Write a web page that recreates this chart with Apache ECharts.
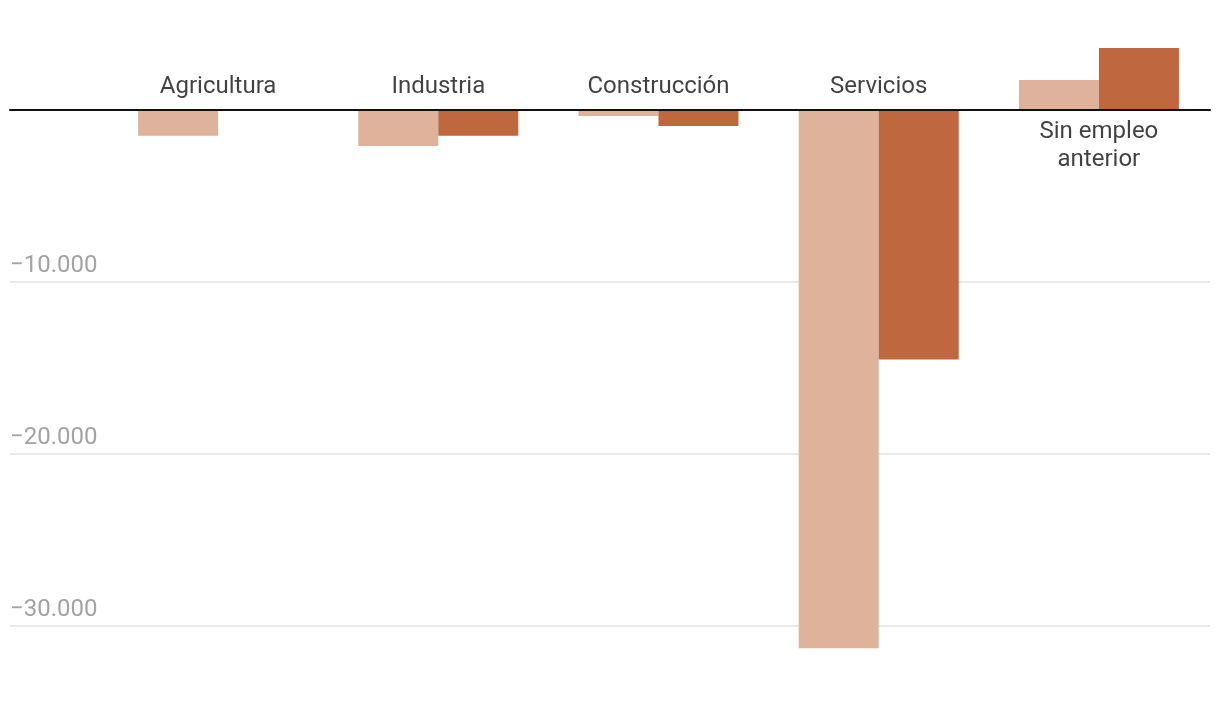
<!DOCTYPE html>
<html>
<head>
<meta charset="utf-8">
<script src="https://cdn.jsdelivr.net/npm/echarts@6/dist/echarts.min.js"></script>
<style>
html,body{margin:0;padding:0;background:#fff;}
#chart{width:1220px;height:702px;}
</style>
</head>
<body>
<div id="chart"></div>
<script>
const categories = ['Agricultura', 'Industria', 'Construcción', 'Servicios', 'Sin empleo\nanterior'];
const seriesLight = [-1500, -2100, -350, -31300, 1750];
const seriesDark = [0, -1500, -930, -14500, 3600];
const gridValues = [-10000, -20000, -30000];
const yMin = -33000, yMax = 4000, yStep = 1000;

function fmt(v) {
  if (gridValues.indexOf(v) < 0) return '';
  const s = Math.abs(v).toString().replace(/\B(?=(\d{3})+(?!\d))/g, '.');
  return '\u2212' + s;
}

const labelData = categories.map((c, i) => {
  const below = (seriesLight[i] + seriesDark[i]) > 0;
  return {
    value: [c, 0],
    label: below
      ? { position: 'bottom', distance: 8 }
      : { position: 'top', distance: 9 }
  };
});

const chart = echarts.init(document.getElementById('chart'), null, { renderer: 'canvas' });
chart.setOption({
  animation: false,
  backgroundColor: '#fff',
  textStyle: { fontFamily: 'Roboto' },
  grid: [
    { left: 10, right: 10, top: 41.2, bottom: 24.4, containLabel: false },
    { left: 108, right: 11, top: 41.2, bottom: 24.4, containLabel: false }
  ],
  xAxis: [
    {
      gridIndex: 0, type: 'value', min: 0, max: 1, z: 10,
      axisLine: { show: true, onZero: true, lineStyle: { color: '#111', width: 2 } },
      axisTick: { show: false }, axisLabel: { show: false }, splitLine: { show: false }
    },
    {
      gridIndex: 1, type: 'category', data: categories,
      axisLine: { show: false }, axisTick: { show: false }, axisLabel: { show: false }, splitLine: { show: false }
    }
  ],
  yAxis: [
    {
      gridIndex: 0, type: 'value', min: yMin, max: yMax, interval: yStep,
      axisLine: { show: false }, axisTick: { show: false },
      axisLabel: {
        inside: true, margin: 0, formatter: fmt, color: '#a3a3a3', fontSize: 24,
        fontFamily: 'Roboto', verticalAlign: 'bottom', padding: [0, 0, 4, 0]
      },
      splitLine: { show: false }
    },
    {
      gridIndex: 1, type: 'value', min: yMin, max: yMax, interval: yStep,
      axisLine: { show: false }, axisTick: { show: false }, axisLabel: { show: false }, splitLine: { show: false }
    }
  ],
  series: [
    {
      type: 'line', xAxisIndex: 0, yAxisIndex: 0, data: [], silent: true, z: 0,
      markLine: {
        silent: true, symbol: 'none', label: { show: false }, z: 0,
        lineStyle: { color: '#e3e3e3', width: 1.5, type: 'solid' },
        data: gridValues.map(v => ({ yAxis: v }))
      }
    },
    {
      type: 'bar', xAxisIndex: 1, yAxisIndex: 1, data: seriesLight,
      barWidth: 80, barGap: '0%', itemStyle: { color: '#dfb29c' }, z: 2
    },
    {
      type: 'bar', xAxisIndex: 1, yAxisIndex: 1, data: seriesDark,
      barWidth: 80, barGap: '0%', itemStyle: { color: '#bf673f' }, z: 2
    },
    {
      type: 'scatter', xAxisIndex: 1, yAxisIndex: 1, data: labelData,
      symbolSize: 0, silent: true, z: 5,
      label: {
        show: true, formatter: p => p.value[0], color: '#111',
        fontSize: 24, fontFamily: 'Roboto', lineHeight: 28, align: 'center'
      }
    }
  ]
});
</script>
</body>
</html>
